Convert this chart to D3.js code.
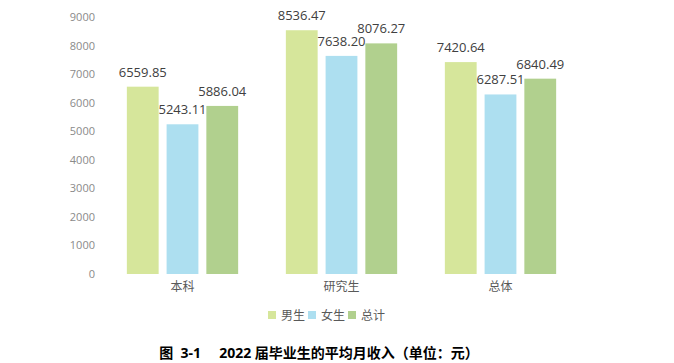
<!DOCTYPE html>
<html><head><meta charset="utf-8">
<script src="https://cdn.jsdelivr.net/npm/d3@7/dist/d3.min.js"></script>
<style>body{margin:0;background:#fff}svg{display:block}</style>
</head><body>
<script>
const categories = ["本科", "研究生", "总体"];
const seriesNames = ["男生", "女生", "总计"];
const male = [6559.85, 8536.47, 7420.64];
const female = [5243.11, 7638.20, 6287.51];
const total = [5886.04, 8076.27, 6840.49];
const yTicks = [0, 1000, 2000, 3000, 4000, 5000, 6000, 7000, 8000, 9000];
const colors = ["#d6e69b", "#addff0", "#b1d08e"];
const title = "图  3-1     2022 届毕业生的平均月收入（单位：元）";

const series = [male, female, total];
const W = 674, H = 363;
const svg = d3.select("body").append("svg").attr("width", W).attr("height", H);
const font = "'Open Sans','Noto Sans CJK SC',sans-serif";

const y = d3.scaleLinear().domain([0, 9000]).range([274, 17]);
const x0 = d3.scaleBand().domain(categories).range([103, 580]).paddingInner(0.3).paddingOuter(0.15);
const x1 = d3.scaleBand().domain(seriesNames).range([0, x0.bandwidth()]).paddingInner(0.2);

// y axis labels
const yAxis = d3.axisLeft(y).tickValues(yTicks).tickSize(0).tickPadding(0).tickFormat(d3.format("d"));
const ga = svg.append("g").attr("transform", "translate(95,0)").call(yAxis);
ga.select(".domain").remove();
ga.selectAll("text").attr("fill", "#8a8a8a").attr("font-size", 11).attr("font-family", font);

// x axis labels
const xAxis = d3.axisBottom(x0).tickSize(0).tickPadding(0);
const gx = svg.append("g").attr("transform", "translate(0,282)").call(xAxis);
gx.select(".domain").remove();
gx.selectAll("text").attr("fill", "#595959").attr("font-size", 12).attr("font-family", font);

// bars
const groups = svg.selectAll("g.grp").data(categories).join("g").attr("class", "grp")
  .attr("transform", d => `translate(${x0(d)},0)`);
groups.each(function(cat, ci) {
  const g = d3.select(this);
  const data = seriesNames.map((s, si) => ({s, si, v: series[si][ci]}));
  g.selectAll("rect").data(data).join("rect")
    .attr("x", d => x1(d.s)).attr("width", x1.bandwidth())
    .attr("y", d => y(d.v)).attr("height", d => y(0) - y(d.v))
    .attr("fill", d => colors[d.si]);
  g.selectAll("text.val").data(data).join("text").attr("class", "val")
    .attr("x", d => x1(d.s) + x1.bandwidth() / 2).attr("y", d => y(d.v) - 10)
    .attr("text-anchor", "middle").attr("fill", "#404040")
    .attr("font-size", 13).attr("font-family", font)
    .text(d => d.v.toFixed(2));
});

// legend
const legendX = [268, 308, 348];
const lg = svg.append("g");
seriesNames.forEach((s, i) => {
  lg.append("rect").attr("x", legendX[i]).attr("y", 311).attr("width", 8).attr("height", 8).attr("fill", colors[i]);
  lg.append("text").attr("x", legendX[i] + 13).attr("y", 319.5).attr("fill", "#595959")
    .attr("font-size", 12).attr("font-family", font).text(s);
});

// title
svg.append("text").attr("x", 319).attr("y", 358).attr("text-anchor", "middle")
  .attr("font-size", 14).attr("font-weight", "bold").attr("fill", "#000")
  .attr("font-family", font).attr("xml:space", "preserve").style("white-space", "pre").text(title);
</script>
</body></html>
